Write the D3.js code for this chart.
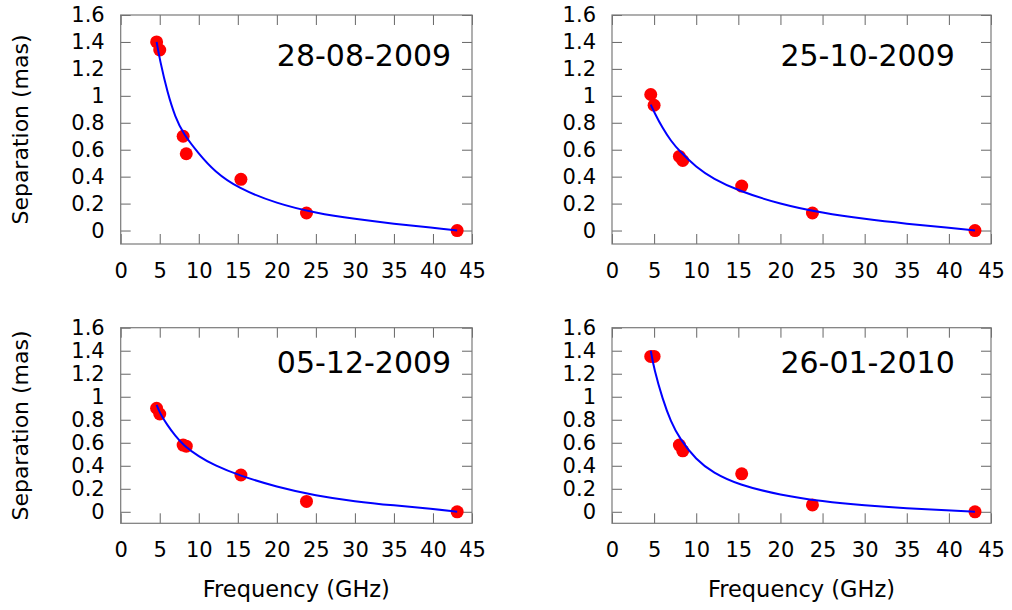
<!DOCTYPE html>
<html>
<head>
<meta charset="utf-8">
<script src="https://cdn.jsdelivr.net/npm/d3@7"></script>
<style>
  body { margin: 0; background: #fff; }
  text { font-family: "DejaVu Sans", sans-serif; fill: #000; }
</style>
</head>
<body>
<svg id="chart" width="1012" height="610"></svg>
<script>
"use strict";
// observing frequencies (GHz) and measured separations (mas)
const freqs = [4.6, 5.0, 8.0, 8.4, 15.4, 23.8, 43.1];
const sep_280809 = [1.40, 1.34, 0.70, 0.57, 0.38, 0.13, 0.00];
const sep_251009 = [1.01, 0.93, 0.55, 0.52, 0.33, 0.13, 0.00];
const sep_051209 = [0.90, 0.85, 0.58, 0.57, 0.32, 0.09, 0.00];
const sep_260110 = [1.35, 1.35, 0.58, 0.53, 0.33, 0.06, 0.00];

// fitted curves
const fitFreqs = [4.6, 5, 6, 7, 8, 10, 12, 15, 20, 25, 30, 35, 40, 43.1];
const fit_280809 = [1.40, 1.27, 1.02, 0.84, 0.72, 0.57, 0.44, 0.315, 0.20, 0.13, 0.085, 0.05, 0.022, 0.0];
const fit_251009 = [0.935, 0.88, 0.76, 0.665, 0.59, 0.47, 0.385, 0.295, 0.195, 0.13, 0.085, 0.05, 0.02, 0.0];
const fit_051209 = [0.93, 0.86, 0.75, 0.66, 0.58, 0.48, 0.405, 0.32, 0.215, 0.14, 0.09, 0.055, 0.025, 0.0];
const fit_260110 = [1.40, 1.24, 0.98, 0.78, 0.64, 0.45, 0.34, 0.235, 0.145, 0.09, 0.055, 0.03, 0.012, 0.0];

const dates = ["28-08-2009", "25-10-2009", "05-12-2009", "26-01-2010"];
const xTicks = [0, 5, 10, 15, 20, 25, 30, 35, 40, 45];
const yTicks = [0, 0.2, 0.4, 0.6, 0.8, 1, 1.2, 1.4, 1.6];

var seps = [sep_280809, sep_251009, sep_051209, sep_260110];
var fits = [fit_280809, fit_251009, fit_051209, fit_260110];

// panel boxes in pixels
var boxes = [
  {l: 120.7, r: 472, t: 15, b: 244},
  {l: 612, r: 991, t: 15, b: 244},
  {l: 120.7, r: 472, t: 327.7, b: 523.3},
  {l: 612, r: 991, t: 327.7, b: 523.3}
];

var svg = d3.select("#chart");

boxes.forEach(function(bx, i) {
  var x = d3.scaleLinear().domain([0, 45]).range([bx.l, bx.r]);
  var y = d3.scaleLinear().domain([-0.1, 1.6]).range([bx.b, bx.t]);
  var g = svg.append("g");

  var fmt = function(d) { return String(+d.toFixed(1)); };

  var left = g.append("g").attr("transform", "translate(" + bx.l + ",0)")
    .call(d3.axisLeft(y).tickValues(yTicks).tickFormat(fmt).tickSize(-10).tickSizeOuter(0).tickPadding(16));
  var right = g.append("g").attr("transform", "translate(" + bx.r + ",0)")
    .call(d3.axisRight(y).tickValues(yTicks).tickFormat("").tickSize(-10).tickSizeOuter(0));
  var bottom = g.append("g").attr("transform", "translate(0," + bx.b + ")")
    .call(d3.axisBottom(x).tickValues(xTicks).tickFormat(d3.format("d")).tickSize(-10).tickSizeOuter(0).tickPadding(19));
  var top = g.append("g").attr("transform", "translate(0," + bx.t + ")")
    .call(d3.axisTop(x).tickValues(xTicks).tickFormat("").tickSize(-10).tickSizeOuter(0));

  [left, right, bottom, top].forEach(function(a) {
    a.select(".domain").remove();
    a.selectAll(".tick line").attr("stroke", "#666").attr("stroke-width", 1);
    a.selectAll(".tick text").attr("font-size", 21).attr("font-family", "DejaVu Sans").attr("fill", "#000");
  });

  g.append("rect")
    .attr("x", bx.l).attr("y", bx.t)
    .attr("width", bx.r - bx.l).attr("height", bx.b - bx.t)
    .attr("fill", "none").attr("stroke", "#7a7a7a").attr("stroke-width", 1.2);

  // points
  g.selectAll("circle").data(freqs.map(function(f, k) { return [f, seps[i][k]]; }))
    .enter().append("circle")
    .attr("cx", function(d) { return x(d[0]); })
    .attr("cy", function(d) { return y(d[1]); })
    .attr("r", 6.5)
    .attr("fill", "#ff0000");

  // fit line
  var line = d3.line()
    .x(function(d) { return x(d[0]); })
    .y(function(d) { return y(d[1]); })
    .curve(d3.curveBasis);
  g.append("path")
    .datum(fitFreqs.map(function(f, k) { return [f, fits[i][k]]; }))
    .attr("d", line)
    .attr("fill", "none")
    .attr("stroke", "#0000ff")
    .attr("stroke-width", 2);

  g.append("text")
    .attr("x", x(20)).attr("y", y(1.3) + 11)
    .attr("font-size", 30)
    .text(dates[i]);

  if (i % 2 == 0) {
    g.append("text")
      .attr("transform", "translate(28," + (bx.t + bx.b) / 2 + ") rotate(-90)")
      .attr("text-anchor", "middle")
      .attr("font-size", 22)
      .text("Separation (mas)");
  }
  if (i >= 2) {
    g.append("text")
      .attr("x", (bx.l + bx.r) / 2).attr("y", bx.b + 74)
      .attr("text-anchor", "middle")
      .attr("font-size", 22.5)
      .text("Frequency (GHz)");
  }
});
</script>
</body>
</html>
